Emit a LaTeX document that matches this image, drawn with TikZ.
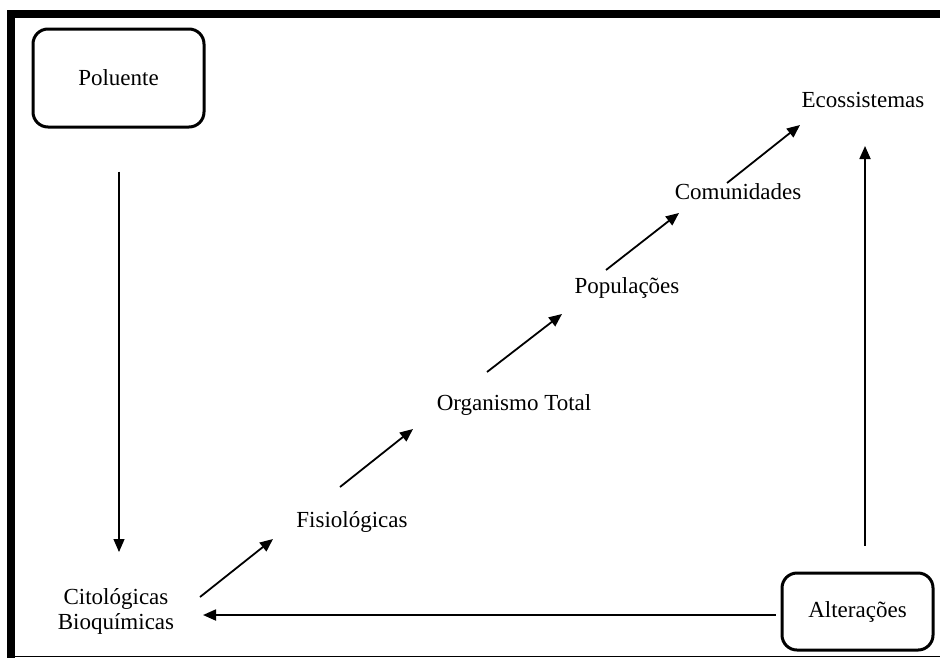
\documentclass[tikz,border=0pt]{standalone}
\usepackage{fontspec}
\setmainfont{Liberation Serif}
\usetikzlibrary{arrows.meta,calc}
\begin{document}
\begin{tikzpicture}[x=0.5pt, y=-0.5pt, font=\fontsize{11.5}{12.5}\selectfont,
  caixa/.style={draw, line width=1.5pt, rounded corners=7.5pt, inner sep=0pt},
  texto/.style={inner sep=0pt, align=center},
  seta/.style={line width=0.9pt, -{Triangle[length=6.5pt, width=5.5pt]}}]
\useasboundingbox (0, 0) rectangle (940, 659);
\fill (7, 10) rectangle (940, 18);
\fill (7, 10) rectangle (15, 658);
\draw [line width=0.8pt] (15, 656.5) -- (940, 656.5);
\node (pol) [caixa, minimum width=85.5pt, minimum height=49pt] at (118.5, 78) {Poluente};
\node (alt) [caixa, minimum width=75.5pt, minimum height=38.5pt] at (857.5, 611.5) {Alterações};
\node (cit) [texto] at (116, 611) {Citológicas\\Bioquímicas};
\node (fis) [texto] at (352, 522) {Fisiológicas};
\node (org) [texto] at (514, 405) {Organismo Total};
\node (pop) [texto] at (627, 288) {Populações};
\node (com) [texto] at (738, 192) {Comunidades};
\node (eco) [texto] at (863, 100) {Ecossistemas};
\draw [seta, line width=0.6pt] ($(pol.south)+(0.5, 43)$) to ($(cit)+(3, -59)$);
\draw [seta] ($(cit)+(84, -14)$) to ($(fis)+(-79, 17)$);
\draw [seta] ($(fis)+(-12, -35)$) to ($(org)+(-101, 24)$);
\draw [seta] ($(org)+(-27, -33)$) to ($(pop)+(-65, 26)$);
\draw [seta] ($(pop)+(-21, -18)$) to ($(com)+(-59, 21)$);
\draw [seta] ($(com)+(-11, -9)$) to ($(eco)+(-63, 25)$);
\draw [seta] ($(alt.north)+(7.5, -26)$) to ($(eco)+(2, 46)$);
\draw [seta] ($(alt.west)+(-5, 3.5)$) to ($(cit)+(87, 4)$);
\end{tikzpicture}
\end{document}
